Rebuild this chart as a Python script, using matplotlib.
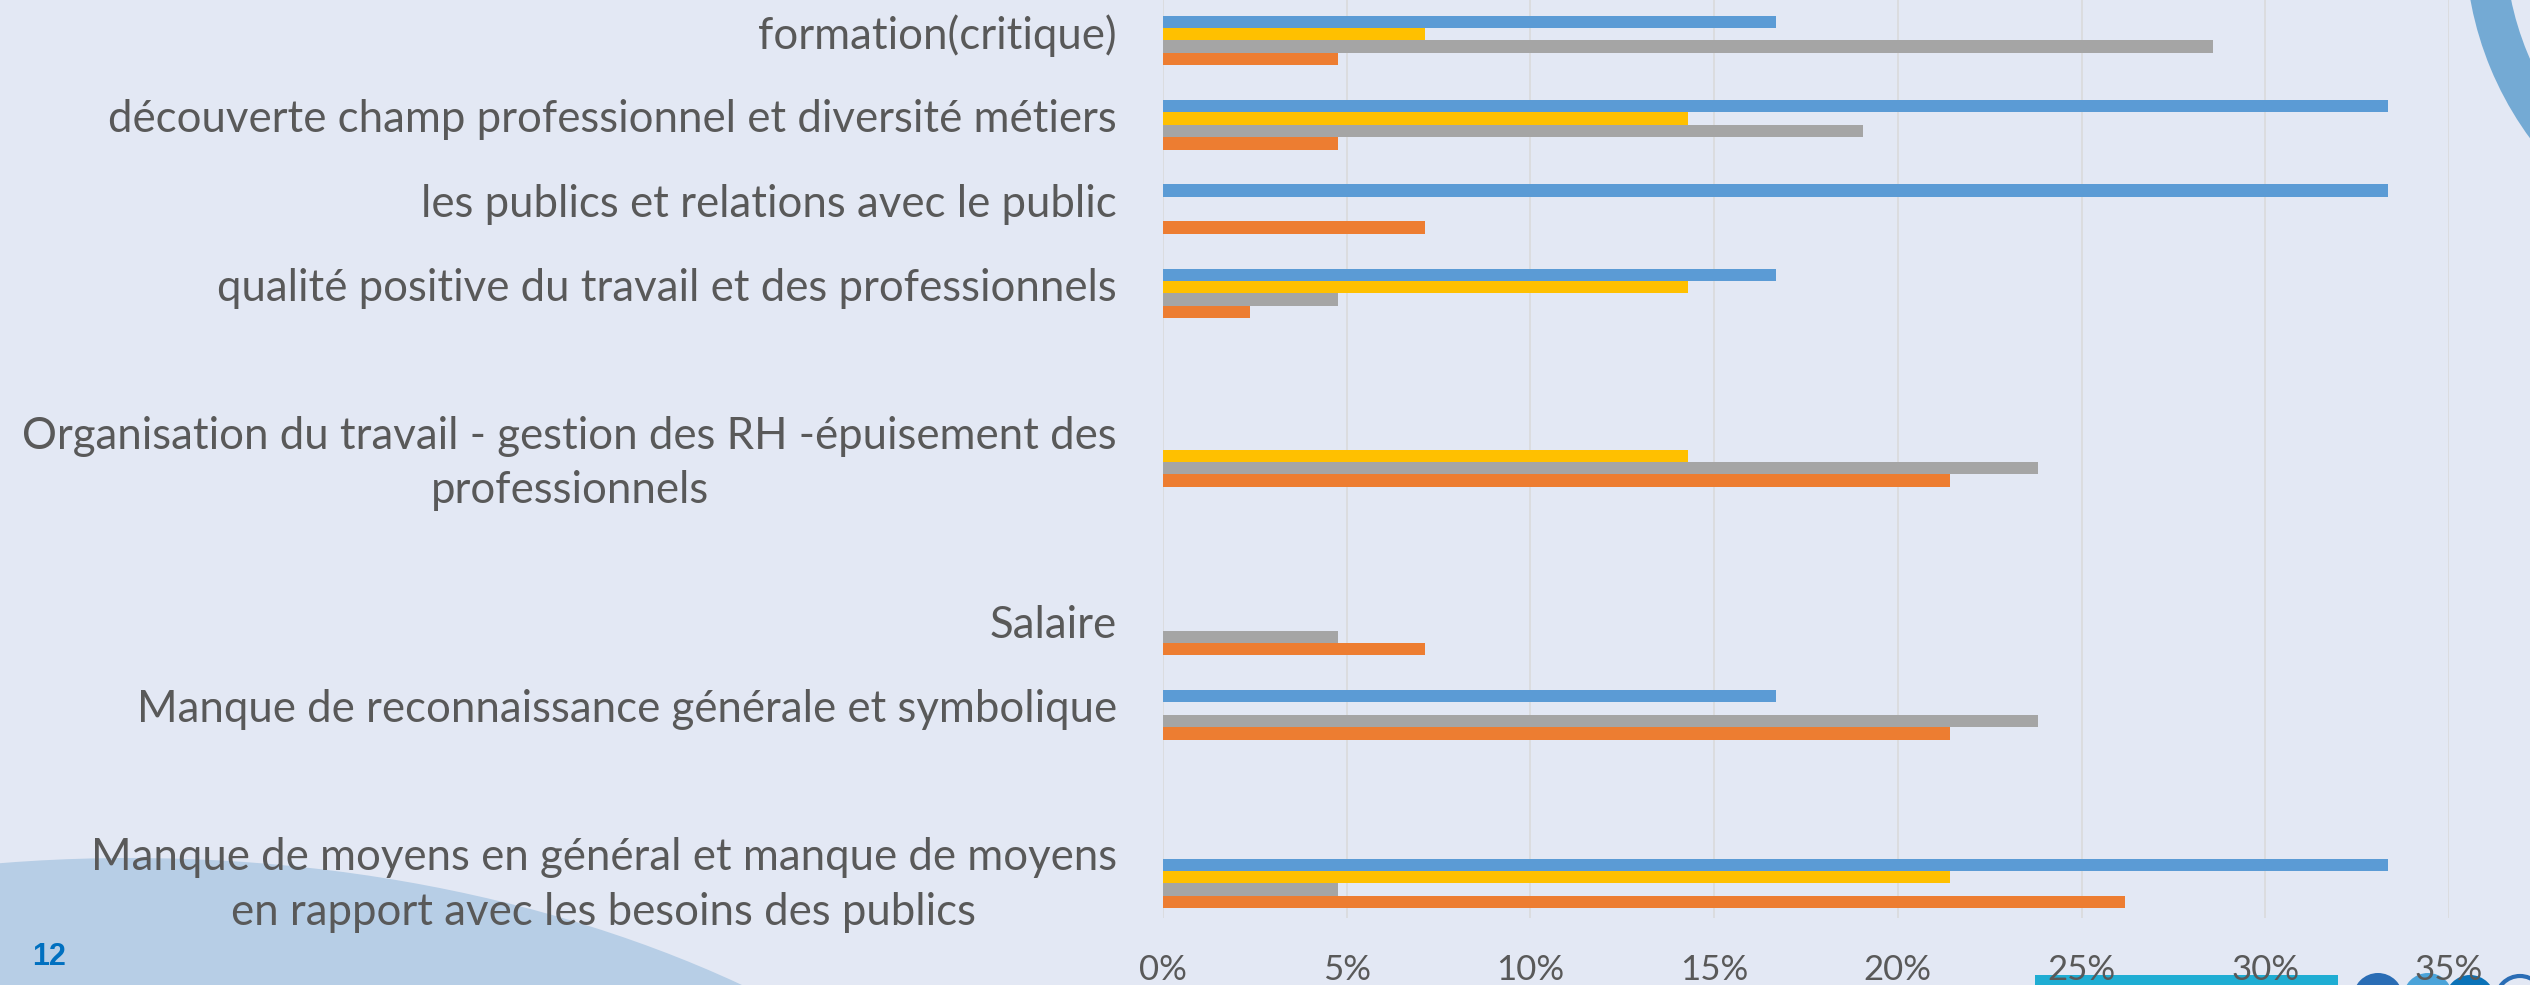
import matplotlib

matplotlib.use("Agg")
import matplotlib.pyplot as plt
import numpy as np
from matplotlib.patches import Ellipse, Wedge, Rectangle, Circle
from matplotlib.ticker import PercentFormatter
from matplotlib.transforms import ScaledTranslation

# categories, bottom to top (Excel order); blank slots are empty categories
categories = [
    "Manque de moyens en général et manque de moyens\nen rapport avec les besoins des publics",
    "",
    "Manque de reconnaissance générale et symbolique",
    "Salaire",
    "",
    "Organisation du travail - gestion des RH -épuisement des\nprofessionnels",
    "",
    "qualité positive du travail et des professionnels",
    "les publics et relations avec le public",
    "découverte champ professionnel et diversité métiers",
    "formation(critique)",
]
serie_bleue = [33.33, 0, 16.67, 0, 0, 0, 0, 16.67, 33.33, 33.33, 16.67]
serie_jaune = [21.43, 0, 0, 0, 0, 14.29, 0, 14.29, 0, 14.29, 7.14]
serie_grise = [4.76, 0, 23.81, 4.76, 0, 23.81, 0, 4.76, 0, 19.05, 28.57]
serie_orange = [26.19, 0, 21.43, 7.14, 0, 21.43, 0, 2.38, 7.14, 4.76, 4.76]
x_ticks = [0, 5, 10, 15, 20, 25, 30, 35]

BG = "#E3E8F4"
TXT = "#595959"
FONT = ["Lato", "DejaVu Sans"]

W, H = 2530, 985
fig = plt.figure(figsize=(W / 100, H / 100), dpi=100, facecolor=BG)

# ── decorations (slide background), pixel coordinates ──
deco = fig.add_axes([0, 0, 1, 1], zorder=0)
deco.set_xlim(0, W)
deco.set_ylim(H, 0)
deco.axis("off")
deco.add_patch(Ellipse((130, 1500), 2050, 1284, color="#B7CEE6", lw=0))
deco.add_patch(Wedge((2800, -60), 335, 0, 360, width=40, color="#74AAD4", lw=0))
deco.add_patch(Rectangle((2035, 975), 303, 12, color="#1FADD3", lw=0))
deco.add_patch(Circle((2378, 998), 25, color="#2A6DB5", lw=0))
deco.add_patch(Circle((2428, 998), 25, color="#4BA3D9", lw=0))
deco.add_patch(Circle((2470, 1000), 25, color="#0A72B8", lw=0))
deco.add_patch(Circle((2520, 1000), 24, fill=False, ec="#2A6DB5", lw=3))
deco.text(32, 957, "12", color="#0070C0", fontsize=22, fontweight="bold",
          family=["Liberation Sans Narrow", "Liberation Sans"], va="center", ha="left")

# ── chart ──
ax = fig.add_axes([1163 / W, 67 / H, (2449 - 1163) / W, 918 / H], zorder=1)
ax.patch.set_alpha(0)

y = np.arange(len(categories))
h = 0.147
ax.barh(y + 1.5 * h, serie_bleue, h, color="#5B9BD5", zorder=3)
ax.barh(y + 0.5 * h, serie_jaune, h, color="#FFC000", zorder=3)
ax.barh(y - 0.5 * h, serie_grise, h, color="#A5A5A5", zorder=3)
ax.barh(y - 1.5 * h, serie_orange, h, color="#ED7D31", zorder=3)

ax.set_xlim(0, 35)
ax.set_ylim(-0.41, 10.48)
ax.set_xticks(x_ticks)
ax.xaxis.set_major_formatter(PercentFormatter(decimals=0))
ax.set_yticks(y)
ax.set_yticklabels([])

# category labels drawn by hand so they can sit a little above the group centre
lbl_tr = ax.get_yaxis_transform() + ScaledTranslation(-46 / 100, 9 / 100, fig.dpi_scale_trans)
for yi, name in zip(y, categories):
    ax.text(0, yi, name, transform=lbl_tr, fontsize=31.5, color=TXT, family=FONT,
            ha="right", va="center_baseline", multialignment="center", linespacing=1.4)

for lbl in ax.get_xticklabels():
    lbl.set_fontsize(25)
    lbl.set_color(TXT)
    lbl.set_family(FONT)
ax.tick_params(axis="y", length=0)
ax.tick_params(axis="x", length=0, pad=26)
ax.grid(axis="x", color="#D9D9D9", linewidth=1.1, zorder=0)
ax.grid(axis="y", visible=False)
for s in ax.spines.values():
    s.set_visible(False)

fig.savefig("out.png", dpi=100, facecolor=BG)
